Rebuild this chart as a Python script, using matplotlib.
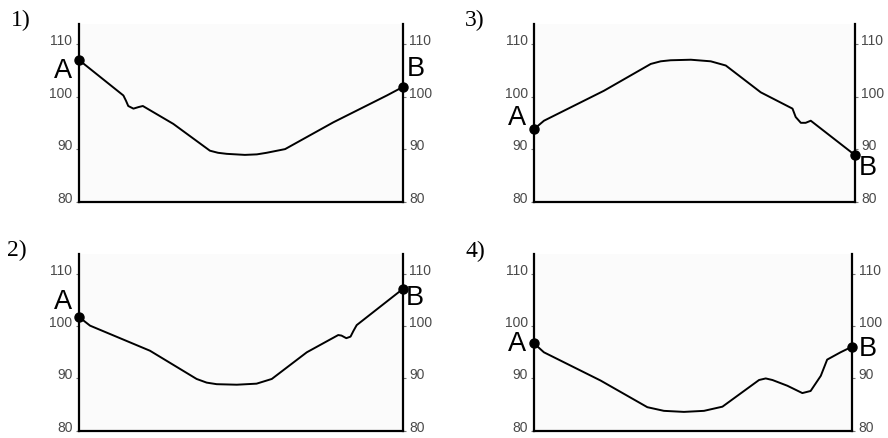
import matplotlib.pyplot as plt

# distance along the profile (0 = A, 100 = B) and height for each panel
profile_1_x = [0, 13.8, 14.6, 15.3, 16.9, 18.5, 19.8, 29.2, 40.5, 43.0, 45.7, 51.3, 55.0, 58.0, 63.7, 78.6, 95.1, 100]
profile_1_y = [107.0, 100.2, 99.2, 98.2, 97.7, 98.0, 98.2, 94.8, 89.7, 89.3, 89.1, 88.9, 89.0, 89.3, 90.0, 95.1, 100.2, 101.8]

profile_2_x = [0, 3.5, 22.0, 36.4, 39.5, 42.6, 48.8, 54.9, 59.6, 70.4, 80.1, 81.1, 82.6, 83.9, 84.8, 85.8, 100]
profile_2_y = [101.8, 100.1, 95.3, 89.9, 89.2, 88.9, 88.8, 89.0, 89.9, 95.0, 98.3, 98.2, 97.7, 98.0, 99.1, 100.2, 107.1]

profile_3_x = [0, 3.1, 21.8, 36.4, 39.5, 42.6, 48.9, 55.1, 59.8, 70.7, 80.6, 81.6, 83.2, 84.7, 86.3, 100]
profile_3_y = [93.8, 95.4, 101.1, 106.2, 106.7, 106.9, 107.0, 106.7, 105.9, 100.8, 97.7, 96.1, 95.0, 95.0, 95.4, 88.9]

profile_4_x = [0, 3.1, 20.9, 35.6, 40.8, 47.1, 53.4, 59.2, 70.7, 72.8, 74.9, 79.6, 84.3, 86.9, 90.1, 92.1, 96.3, 100]
profile_4_y = [96.7, 95.0, 89.6, 84.5, 83.8, 83.6, 83.8, 84.6, 89.7, 90.0, 89.7, 88.6, 87.2, 87.6, 90.5, 93.6, 95.0, 96.1]

panel_names = ["1)", "2)", "3)", "4)"]
tick_values = [80, 90, 100, 110]

profiles = [
    (profile_1_x, profile_1_y),
    (profile_2_x, profile_2_y),
    (profile_3_x, profile_3_y),
    (profile_4_x, profile_4_y),
]

# axes boxes in figure fractions, and label spots
boxes = [
    [0.0886, 0.5383, 0.3649, 0.4048],
    [0.0886, 0.0166, 0.3649, 0.4025],
    [0.6014, 0.5383, 0.3611, 0.4048],
    [0.6014, 0.0166, 0.3584, 0.4025],
]
name_spots = [(11, 10), (7, 240), (465, 10), (465, 241)]
a_offsets = [(-16, -10), (-16, 16), (-17, 12), (-17, 0)]
b_offsets = [(13, 19), (12, -8), (13, -12), (15, -1)]

fig = plt.figure(figsize=(8.88, 4.39), dpi=100)
fig.patch.set_facecolor("white")

for (xs, ys), box, name, spot, a_off, b_off in zip(
    profiles, boxes, panel_names, name_spots, a_offsets, b_offsets
):
    ax = fig.add_axes(box)
    ax.set_facecolor("#fbfbfb")
    ax.plot(xs, ys, color="black", linewidth=1.4, solid_joinstyle="round")
    ax.plot([xs[0], xs[-1]], [ys[0], ys[-1]], "o", color="black", markersize=6.5, clip_on=False, zorder=5)
    ax.set_xlim(0, 100)
    ax.set_ylim(80, 113.8)
    ax.spines["top"].set_visible(False)
    for side in ["left", "right", "bottom"]:
        ax.spines[side].set_linewidth(1.6)
    ax.set_xticks([])
    ax.set_yticks(tick_values)
    ax.tick_params(axis="y", left=True, right=True, labelleft=True, labelright=True,
                   direction="out", length=2.5, width=0.8, color="#777777",
                   labelcolor="#4a4a4a", labelsize=10, pad=2)
    for t in ax.yaxis.get_major_ticks():
        for lab in (t.label1, t.label2):
            lab.set_fontfamily("Liberation Sans")
            lab.set_va("baseline")

    ax.annotate("A", (xs[0], ys[0]), xytext=a_off, textcoords="offset pixels",
                ha="center", va="center", fontsize=19.5, family="Liberation Sans")
    ax.annotate("B", (xs[-1], ys[-1]), xytext=b_off, textcoords="offset pixels",
                ha="center", va="center", fontsize=19.5, family="Liberation Sans")

    fig.text(spot[0] / 888, 1 - spot[1] / 439, name, ha="left", va="top",
             fontsize=17, family="Liberation Serif")

fig.savefig("out.png", dpi=100)
